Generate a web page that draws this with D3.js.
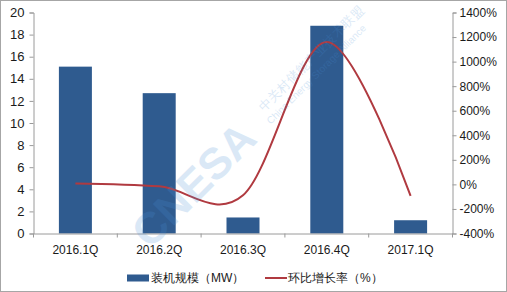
<!DOCTYPE html>
<html>
<head>
<meta charset="utf-8">
<script src="https://cdn.jsdelivr.net/npm/d3@7"></script>
<style>
  body { margin: 0; background: #fff; }
  svg { display: block; }
  text { font-family: "Liberation Sans", Arial, sans-serif; }
</style>
</head>
<body>
<div id="chart"></div>
<script>
// data
const quarters = ["2016.1Q", "2016.2Q", "2016.3Q", "2016.4Q", "2017.1Q"];
const capacity = [15.1, 12.7, 1.45, 18.8, 1.2]; // 装机规模 MW
const growth = [8, -16, -89, 1160, -94]; // 环比增长率 %
const leftTicks = [0, 2, 4, 6, 8, 10, 12, 14, 16, 18, 20];
const rightTicks = [-400, -200, 0, 200, 400, 600, 800, 1000, 1200, 1400];

const W = 507, H = 292;
const plot = { left: 33.5, right: 452.5, top: 12.5, bottom: 233.5 };

const svg = d3.select("#chart").append("svg")
  .attr("width", W).attr("height", H);

// frame
svg.append("rect").attr("x", 0.5).attr("y", 0.5)
  .attr("width", W - 1).attr("height", H - 1)
  .attr("fill", "#fff").attr("stroke", "#a6a6a6");

// scales
const x = d3.scaleBand().domain(quarters).range([plot.left, plot.right]).padding(0);
const y = d3.scaleLinear().domain([0, 20]).range([plot.bottom, plot.top]);
const y2 = d3.scaleLinear().domain([-400, 1400]).range([plot.bottom, plot.top]);

// bars
const barW = 33;
svg.append("g").selectAll("rect").data(quarters).join("rect")
  .attr("x", (d) => x(d) + x.bandwidth() / 2 - barW / 2)
  .attr("width", barW)
  .attr("y", (d, i) => y(capacity[i]))
  .attr("height", (d, i) => plot.bottom - y(capacity[i]))
  .attr("fill", "#2f5b8f");

// axes
const axisColor = "#9a9a9a";
const gL = svg.append("g").attr("transform", `translate(${plot.left},0)`)
  .call(d3.axisLeft(y).tickValues(leftTicks).tickSize(4).tickPadding(5));
const gR = svg.append("g").attr("transform", `translate(${plot.right},0)`)
  .call(d3.axisRight(y2).tickValues(rightTicks).tickFormat((d) => d + "%").tickSize(4).tickPadding(3));
const gB = svg.append("g").attr("transform", `translate(0,${plot.bottom})`)
  .call(d3.axisBottom(x).tickSize(0).tickPadding(12));

[gL, gR, gB].forEach((g) => {
  g.select(".domain").attr("stroke", axisColor);
  g.selectAll(".tick line").attr("stroke", axisColor);
  g.selectAll("text").style("font-size", "12px").attr("fill", "#1a1a1a");
  g.attr("font-family", null);
});
gL.selectAll("text").style("font-size", "13px");

// category separators on bottom axis
svg.append("g").selectAll("line").data(quarters.concat(["end"])).join("line")
  .attr("x1", (d, i) => plot.left + i * x.bandwidth())
  .attr("x2", (d, i) => plot.left + i * x.bandwidth())
  .attr("y1", plot.bottom).attr("y2", plot.bottom + 4)
  .attr("stroke", axisColor);

// growth line
const line = d3.line()
  .x((d, i) => x(quarters[i]) + x.bandwidth() / 2)
  .y((d) => y2(d))
  .curve(d3.curveCardinal.tension(0));
svg.append("path").datum(growth)
  .attr("d", line)
  .attr("fill", "none")
  .attr("stroke", "#b03a40")
  .attr("stroke-width", 2);

// watermark (diagonal, pale, over the marks)
const wm = svg.append("g").attr("transform", "translate(140,240) rotate(-45)")
  .attr("opacity", 0.2).attr("fill", "#4a90d6");
wm.append("text").attr("x", 0).attr("y", 14)
  .style("font-size", "44px").style("font-weight", "bold").text("CNESA");
wm.append("text").attr("x", 178).attr("y", -3)
  .style("font-size", "12.5px").text("中关村储能产业技术联盟");
wm.append("text").attr("x", 174).attr("y", 11)
  .style("font-size", "10px").text("China Energy Storage Alliance");

// legend
const lg = svg.append("g").attr("transform", "translate(0,278)");
lg.append("rect").attr("x", 127).attr("y", -3.5).attr("width", 22).attr("height", 7)
  .attr("fill", "#2f5b8f");
lg.append("text").attr("x", 151).attr("y", 0).attr("dy", "0.35em")
  .style("font-size", "12px").attr("fill", "#1a1a1a").text("装机规模（MW）");
lg.append("line").attr("x1", 265).attr("x2", 287).attr("y1", 0).attr("y2", 0)
  .attr("stroke", "#b03a40").attr("stroke-width", 2);
lg.append("text").attr("x", 288).attr("y", 0).attr("dy", "0.35em")
  .style("font-size", "12px").attr("fill", "#1a1a1a").text("环比增长率（%）");
</script>
</body>
</html>
